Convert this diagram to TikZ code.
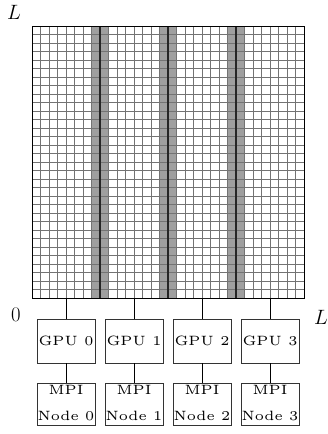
\documentclass[tikz,border=0pt]{standalone}
\usepackage{graphicx}
\tikzset{
  gridline/.style={black!55, line width=0.6pt},
  bandfill/.style={fill=gray!75, draw=none},
  splitline/.style={black!85, line width=1.3pt},
  border/.style={black, line width=1pt},
  boxnode/.style={draw=black!80, line width=0.8pt, minimum width=58pt, inner sep=0pt, outer sep=0pt},
  conn/.style={draw=black, line width=0.7pt},
  axislabel/.style={font=\huge, inner sep=0pt}
}
\newcommand{\boxtxt}[1]{\scalebox{2.7}{\tiny #1}}
\begin{document}
\begin{tikzpicture}[x=1pt,y=-1pt]
\useasboundingbox (0,0) rectangle (328,434);
% bands
\foreach \i in {1,2,3} {
  \fill[bandfill] ({32+(8*\i-1)*8.5},26) rectangle ({32+(8*\i+1)*8.5},298);
}
% grid
\foreach \k in {0,...,32} {
  \draw[gridline] ({32+\k*8.5},26) -- ({32+\k*8.5},298);
  \draw[gridline] (32,{26+\k*8.5}) -- (304,{26+\k*8.5});
}
% split lines
\foreach \i in {1,2,3} {
  \draw[splitline] ({32+8*\i*8.5},26) -- ({32+8*\i*8.5},298);
}
\draw[border] (32,26) rectangle (304,298);
% labels
\node[axislabel] (Ltop) at (14,12) {$L$};
\node[axislabel] (zero) at (16,315) {$0$};
\node[axislabel] (Lright) at (321,317) {$L$};
% boxes
\foreach \i in {0,1,2,3} {
  \coordinate (t\i) at ({66+68*\i},298);
  \node[boxnode, minimum height=44pt] (g\i) at ({66+68*\i},341) {\boxtxt{GPU \i}};
  \node[boxnode, minimum height=42pt] (m\i) at ({66+68*\i},404)
    {\boxtxt{\begin{tabular}{@{}c@{}}MPI\\[3.6pt]Node \i\end{tabular}}};
  \draw[conn] (t\i) -- (g\i.north);
  \draw[conn] (g\i.south) -- (m\i.north);
}
\end{tikzpicture}
\end{document}
